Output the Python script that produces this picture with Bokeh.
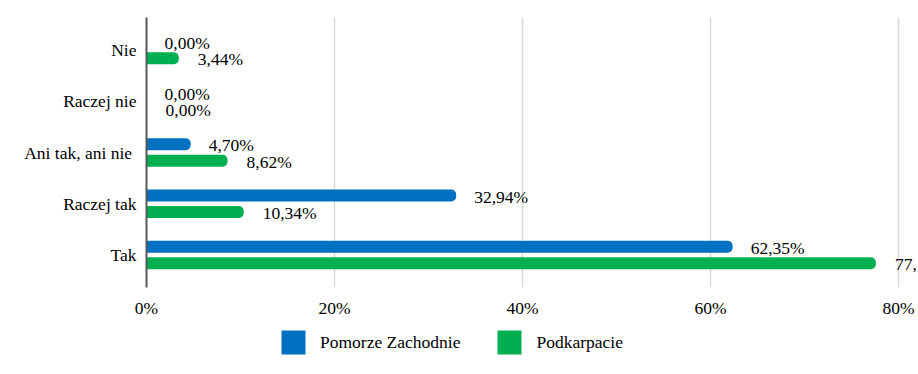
from bokeh.plotting import figure
from bokeh.layouts import column
from bokeh.models import (ColumnDataSource, FactorRange, Range1d, Legend, LegendItem,
                          FixedTicker, PrintfTickFormatter)
from bokeh.transform import dodge
from bokeh.core.properties import value
from bokeh.embed import file_html
from bokeh.resources import INLINE

categories = ["Tak", "Raczej tak", "Ani tak, ani nie ", "Raczej nie", "Nie"]
pomorze = [62.35, 32.94, 4.70, 0.00, 0.00]
podkarpacie = [77.59, 10.34, 8.62, 0.00, 3.44]
series_names = ["Pomorze Zachodnie", "Podkarpacie"]
x_ticks = [0, 20, 40, 60, 80]

BLUE = "#0070C0"
GREEN = "#00B050"
FONT = "Liberation Serif"
FS = "17.5px"

def fmt(v):
    return f"{v:.2f}".replace(".", ",") + "%"

src = ColumnDataSource(dict(
    cat=categories,
    pom=pomorze,
    pod=podkarpacie,
    pom_lbl=[fmt(v) for v in pomorze],
    pod_lbl=[fmt(v) for v in podkarpacie],
))

p = figure(
    width=918, height=322,
    y_range=FactorRange(*categories, range_padding=0.0536),
    x_range=Range1d(0, 81.91),
    output_backend="svg", toolbar_location=None,
    min_border_left=146, min_border_right=2, min_border_top=17, min_border_bottom=35,
)
p.outline_line_color = None
p.background_fill_color = "white"
p.border_fill_color = "white"

off = 0.16
bh = 0.232
r_pom = p.hbar(y=dodge("cat", off, range=p.y_range), left=0, right="pom", height=bh,
               source=src, fill_color=BLUE, line_color=None, border_radius=(0, 5, 5, 0))
r_pod = p.hbar(y=dodge("cat", -off, range=p.y_range), left=0, right="pod", height=bh,
               source=src, fill_color=GREEN, line_color=None, border_radius=(0, 5, 5, 0))

p.text(x="pom", y=dodge("cat", off, range=p.y_range), text="pom_lbl", source=src,
       x_offset=18, y_offset=1, text_baseline="middle", text_align="left",
       text_font=value(FONT), text_font_size=FS, text_color="black")
p.text(x="pod", y=dodge("cat", -off, range=p.y_range), text="pod_lbl", source=src,
       x_offset=19, y_offset=1, text_baseline="middle", text_align="left",
       text_font=value(FONT), text_font_size=FS, text_color="black")

# axes
p.xaxis.ticker = FixedTicker(ticks=x_ticks)
p.xaxis.formatter = PrintfTickFormatter(format="%d%%")
p.xaxis.axis_line_color = None
p.xaxis.major_tick_line_color = None
p.xaxis.minor_tick_line_color = None
p.xaxis.major_tick_out = 0
p.xaxis.major_tick_in = 0
p.xaxis.minor_tick_out = 0
p.xaxis.major_label_standoff = 10
p.xaxis.major_label_text_font = FONT
p.xaxis.major_label_text_font_size = FS
p.xaxis.major_label_text_color = "black"

p.yaxis.axis_line_color = "#595959"
p.yaxis.axis_line_width = 2
p.yaxis.major_tick_line_color = None
p.yaxis.minor_tick_line_color = None
p.yaxis.major_tick_out = 0
p.yaxis.major_tick_in = 0
p.yaxis.major_label_standoff = 10
p.yaxis.major_label_text_font = FONT
p.yaxis.major_label_text_font_size = FS
p.yaxis.major_label_text_color = "black"

p.xgrid.grid_line_color = "#d9d9d9"
p.xgrid.grid_line_width = 1.5
p.ygrid.grid_line_color = None

# legend strip below the chart (zero-size proxy glyphs carry the legend swatches)
lf = figure(width=918, height=52, x_range=Range1d(0, 1), y_range=Range1d(0, 1),
            x_axis_type=None, y_axis_type=None, output_backend="svg", toolbar_location=None,
            min_border_left=0, min_border_right=0, min_border_top=0, min_border_bottom=0)
lf.outline_line_color = None
lf.grid.visible = False
proxy = ColumnDataSource(dict(y=[0], left=[0], right=[0]))
lp_pom = lf.hbar(y="y", left="left", right="right", height=0, source=proxy,
                 fill_color=BLUE, line_color=None)
lp_pod = lf.hbar(y="y", left="left", right="right", height=0, source=proxy,
                 fill_color=GREEN, line_color=None)

legend = Legend(
    items=[LegendItem(label=series_names[0], renderers=[lp_pom]),
           LegendItem(label=series_names[1], renderers=[lp_pod])],
    orientation="horizontal", location=(132, 17),
    glyph_width=30, glyph_height=30, label_standoff=12, spacing=34,
    padding=0, margin=0, border_line_color=None, background_fill_alpha=0,
    label_text_font=FONT, label_text_font_size=FS, label_text_color="black",
)
lf.add_layout(legend, "center")

layout = column(p, lf, spacing=0)
open("out.html", "w").write(file_html(layout, INLINE))
